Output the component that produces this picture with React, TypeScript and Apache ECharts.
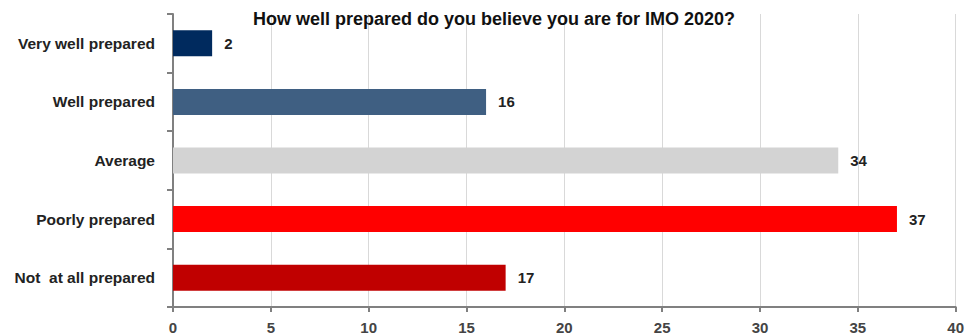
import React, { useEffect, useRef } from "react";
import * as echarts from "echarts";

const categories = ["Very well prepared", "Well prepared", "Average", "Poorly prepared", "Not  at all prepared"];
const values = [2, 16, 34, 37, 17];
const colors = ["#002A5E", "#3F5F82", "#D3D3D3", "#FF0000", "#C00000"];
const titleText = "How well prepared do you believe you are for IMO 2020?";

export default function App() {
  const ref = useRef<HTMLDivElement>(null);
  useEffect(() => {
    document.body.style.margin = "0";
    const chart = echarts.init(ref.current!, null, { renderer: "svg" });
    chart.setOption({
      animation: false,
      backgroundColor: "#ffffff",
      title: {
        text: titleText,
        left: 489,
        textAlign: "center",
        top: 5,
        textStyle: { fontFamily: "Liberation Sans, Arial", fontSize: 18, fontWeight: "bold", color: "#111" },
      },
      grid: { left: 173, right: 9, top: 14, bottom: 25 },
      xAxis: {
        type: "value",
        min: 0,
        max: 40,
        interval: 5,
        axisLine: { show: true, lineStyle: { color: "#808080", width: 2 } },
        axisTick: { show: true, length: 5, lineStyle: { color: "#808080", width: 2 } },
        axisLabel: { fontFamily: "Liberation Sans, Arial", fontSize: 15, fontWeight: "bold", color: "#444", margin: 13 },
        splitLine: { show: true, lineStyle: { color: "#D9D9D9", width: 1 } },
      },
      yAxis: {
        type: "category",
        data: categories,
        inverse: true,
        axisLine: { show: true, lineStyle: { color: "#808080", width: 2 } },
        axisTick: { show: true, length: 6, lineStyle: { color: "#808080", width: 2 } },
        axisLabel: { fontFamily: "Liberation Sans, Arial", fontSize: 15.5, fontWeight: "bold", color: "#222", margin: 18 },
        splitLine: { show: false },
      },
      series: [
        {
          type: "bar",
          data: values.map((v, i) => ({ value: v, itemStyle: { color: colors[i] } })),
          barWidth: 26,
          label: {
            show: true,
            position: "right",
            distance: 12,
            fontFamily: "Liberation Sans, Arial",
            fontSize: 15,
            fontWeight: "bold",
            color: "#222",
          },
        },
      ],
    });
    return () => chart.dispose();
  }, []);
  return <div ref={ref} style={{ width: 967, height: 335 }} />;
}
